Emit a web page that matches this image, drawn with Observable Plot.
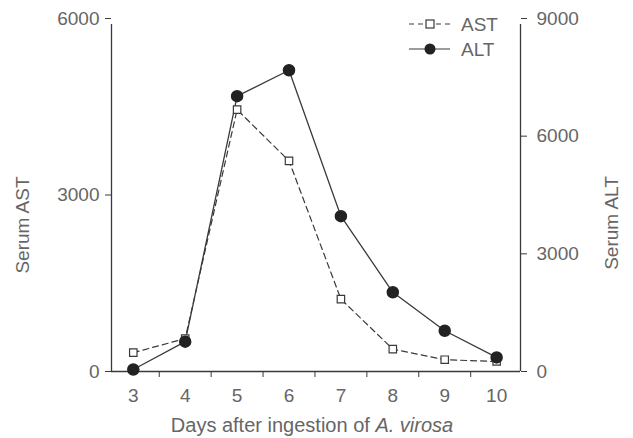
<!DOCTYPE html>
<html>
<head>
<meta charset="utf-8">
<script src="https://cdn.jsdelivr.net/npm/d3@7"></script>
<script src="https://cdn.jsdelivr.net/npm/@observablehq/plot@0.6"></script>
<style>
  html, body { margin: 0; padding: 0; background: #fff; }
  #wrap { position: relative; width: 633px; height: 438px; }
</style>
</head>
<body>
<div id="wrap"></div>
<script>
const days = [3, 4, 5, 6, 7, 8, 9, 10];
const ast  = [320, 560, 4450, 3580, 1230, 380, 200, 170];
const alt  = [50, 760, 7020, 7680, 3960, 2020, 1040, 360];
const astTicks = [0, 3000, 6000];
const altTicks = [0, 3000, 6000, 9000];
const dayLabels = [3, 4, 5, 6, 7, 8, 9, 10];
const dayTickMarks = [3.5, 4.5, 5.5, 6.5, 7.5, 8.5, 9.5];

const ratio = 6000 / 9000;
const rows = days.map((d, i) => ({day: d, ast: ast[i], alt: alt[i]}));

const ink = "#3a3a3a";
const txt = "#666";
const font = "Liberation Sans, Arial, Helvetica, sans-serif";
const xDomain = [2.58, 10.46];

const chart = Plot.plot({
  width: 633,
  height: 438,
  marginLeft: 111,
  marginRight: 113,
  marginTop: 18,
  marginBottom: 67,
  style: {fontFamily: font, fontSize: "19px", color: txt, background: "#fff"},
  x: {domain: xDomain},
  y: {domain: [0, 6000]},
  marks: [
    Plot.ruleX([xDomain[0]], {y1: 0, y2: 6000, stroke: ink, strokeWidth: 1.3, insetBottom: -6}),
    Plot.ruleX([xDomain[1]], {y1: 0, y2: 6000, stroke: ink, strokeWidth: 1.3, insetBottom: -6}),
    Plot.ruleY([0], {stroke: ink, strokeWidth: 1.3}),
    Plot.axisY({anchor: "left", ticks: astTicks, tickSize: 6, tickPadding: 6, stroke: ink,
      tickFormat: d => String(d), fill: txt, label: null}),
    Plot.axisY({anchor: "right", ticks: altTicks.map(v => v * ratio), tickSize: 6, tickPadding: 10, stroke: ink,
      tickFormat: d => String(Math.round(d / ratio)), fill: txt, label: null}),
    Plot.axisX({ticks: dayTickMarks, tickSize: 6, tickFormat: () => "", stroke: ink, label: null}),
    Plot.axisX({ticks: dayLabels, tickSize: 0, tickPadding: 17, tickFormat: d => String(d), fill: txt, label: null}),
    Plot.line(rows, {x: "day", y: "ast", stroke: ink, strokeWidth: 1.2, strokeDasharray: "6,4"}),
    Plot.line(rows, {x: "day", y: d => d.alt * ratio, stroke: ink, strokeWidth: 1.3}),
    Plot.dot(rows, {x: "day", y: "ast", symbol: "square", r: 4.2, fill: "#fff", stroke: ink, strokeWidth: 1.2}),
    Plot.dot(rows, {x: "day", y: d => d.alt * ratio, r: 5.5, fill: "#222", stroke: "#222"})
  ]
});

document.getElementById("wrap").appendChild(chart);

const svg = d3.select(chart);

// axis titles
const yTitles = [
  {text: "Serum AST", x: 22, y: 225},
  {text: "Serum ALT", x: 611, y: 223}
];
yTitles.forEach(t => {
  svg.append("text")
    .attr("transform", `translate(${t.x},${t.y}) rotate(-90)`)
    .attr("text-anchor", "middle").attr("dy", "0.35em")
    .attr("fill", txt)
    .style("font-family", font).style("font-size", "19px")
    .text(t.text);
});

const xt = svg.append("text")
  .attr("x", 312).attr("y", 432)
  .attr("text-anchor", "middle")
  .attr("fill", txt)
  .style("font-family", font).style("font-size", "20px");
xt.append("tspan").text("Days after ingestion of ");
xt.append("tspan").attr("font-style", "italic").text("A. virosa");

const series = [
  {name: "AST", dash: "5,4", square: true},
  {name: "ALT", dash: null, square: false}
];
const lg = svg.append("g").attr("transform", "translate(409,24)");
series.forEach((s, i) => {
  const g = lg.append("g").attr("transform", `translate(0,${i * 25})`);
  g.append("line").attr("x1", 0).attr("x2", 41).attr("y1", 0).attr("y2", 0)
    .attr("stroke", ink).attr("stroke-width", 1.2)
    .attr("stroke-dasharray", s.dash);
  if (s.square) {
    g.append("rect").attr("x", 17).attr("y", -4).attr("width", 8).attr("height", 8)
      .attr("fill", "#fff").attr("stroke", ink).attr("stroke-width", 1.2);
  } else {
    g.append("circle").attr("cx", 21).attr("cy", 0).attr("r", 5.5).attr("fill", "#222");
  }
  g.append("text").attr("x", 52).attr("y", 0).attr("dy", "0.35em")
    .attr("text-anchor", "start")
    .attr("fill", txt).style("font-family", font).style("font-size", "19px")
    .text(s.name);
});
</script>
</body>
</html>
